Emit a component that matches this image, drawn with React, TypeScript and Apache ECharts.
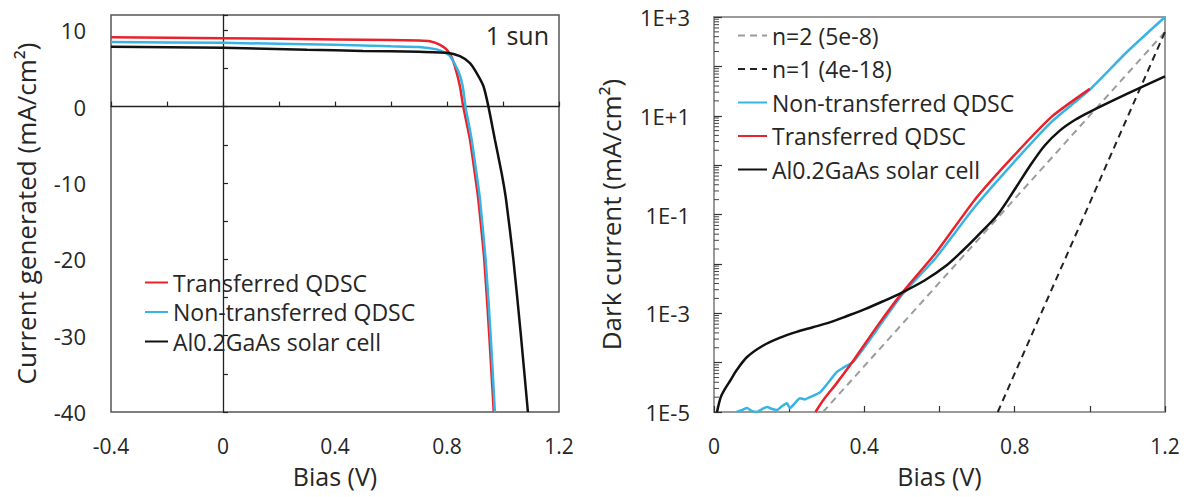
import React, { useEffect, useRef } from 'react';
import * as echarts from 'echarts';

const FONT = 'Open Sans';
const RED = '#e8232b';
const BLUE = '#38b4e4';
const BLACK = '#111111';
const DASH_GRAY = '#9c9c9c';
const TEXT = '#262626';

// ---------- Left panel: current generated under 1 sun [bias V, mA/cm²] ----------
const LIGHT_TRANSFERRED: [number, number][] = [
  [-0.4, 9.1], [0, 8.95], [0.4, 8.8], [0.6, 8.72], [0.7, 8.65], [0.739, 8.55],
  [0.775, 8.1], [0.798, 7.5], [0.815, 6.6], [0.828, 5.3], [0.846, 2.7], [0.858, 0],
  [0.882, -4.3], [0.906, -10.5], [0.912, -12.2], [0.933, -20], [0.951, -30], [0.967, -40],
];
const LIGHT_NON_TRANSFERRED: [number, number][] = [
  [-0.4, 8.45], [0, 8.35], [0.4, 8.1], [0.6, 7.9], [0.7, 7.8], [0.763, 7.5],
  [0.79, 7.1], [0.811, 6.6], [0.841, 4.6], [0.856, 2.7], [0.866, 0],
  [0.888, -4.3], [0.912, -10.5], [0.918, -12.2], [0.938, -20], [0.956, -30], [0.971, -40],
];
const LIGHT_ALGAAS: [number, number][] = [
  [-0.4, 7.85], [0, 7.72], [0.3, 7.45], [0.5, 7.3], [0.7, 7.2], [0.798, 7.05],
  [0.846, 6.6], [0.882, 5.7], [0.906, 4.4], [0.93, 2.7], [0.948, 0],
  [0.971, -4.3], [0.995, -8.7], [1.011, -12.2], [1.037, -20], [1.064, -30], [1.089, -40],
];

// ---------- Right panel: dark current [bias V, mA/cm²] ----------
const DARK_Y_MIN = 1e-5;
const DARK_Y_MAX = 1e3;
const DARK_N2: [number, number][] = [[0.29, 1e-5], [1.2, 500]];
const DARK_N1: [number, number][] = [[0.755, 1e-5], [1.2, 500]];
const DARK_NON_TRANSFERRED: [number, number][] = [
  [0.06, 1e-5], [0.075, 1.1e-5], [0.088, 1.2e-5], [0.1, 1.05e-5], [0.114, 1e-5],
  [0.128, 1.15e-5], [0.141, 1.26e-5], [0.155, 1.15e-5], [0.168, 1.1e-5], [0.18, 1.3e-5],
  [0.194, 1.5e-5], [0.202, 1.2e-5], [0.215, 1.5e-5], [0.229, 1.9e-5], [0.242, 1.8e-5],
  [0.255, 2.0e-5], [0.282, 2.5e-5], [0.309, 4.4e-5], [0.327, 6.5e-5], [0.345, 8e-5],
  [0.371, 1.05e-4], [0.433, 4.6e-4], [0.499, 2.3e-3], [0.591, 1.35e-2], [0.693, 0.14],
  [0.796, 1.1], [0.898, 7.5], [1.0, 34], [1.1, 200], [1.2, 1000],
];
const DARK_TRANSFERRED: [number, number][] = [
  [0.27, 1e-5], [0.291, 1.75e-5], [0.326, 3.8e-5], [0.371, 1.1e-4], [0.433, 5.3e-4],
  [0.499, 2.5e-3], [0.591, 1.7e-2], [0.693, 0.195], [0.796, 1.5], [0.898, 9.5], [1.0, 35],
];
const DARK_ALGAAS: [number, number][] = [
  [0.008, 1e-5], [0.018, 2.0e-5], [0.03, 3.0e-5], [0.043, 4.3e-5], [0.06, 7e-5],
  [0.088, 1.3e-4], [0.13, 2.2e-4], [0.176, 3.2e-4], [0.22, 4.2e-4], [0.263, 5.2e-4],
  [0.31, 6.6e-4], [0.354, 8.8e-4], [0.4, 1.2e-3], [0.45, 1.75e-3], [0.499, 2.6e-3],
  [0.56, 4.6e-3], [0.62, 9.5e-3], [0.66, 1.8e-2], [0.7, 3.6e-2], [0.755, 0.1],
  [0.8, 0.32], [0.84, 0.95], [0.88, 2.5], [0.92, 5.0], [0.96, 8.2], [1.0, 12],
  [1.1, 28], [1.2, 63],
];
// log-axis minor tick positions (m × 10^d)
const LOG_DECADES = [-5, -4, -3, -2, -1, 0, 1, 2];
const LOG_MULTIPLIERS = [2, 3, 4, 5, 6, 7, 8, 9];

const LEFT_LEGEND = ['Transferred QDSC', 'Non-transferred QDSC', 'Al0.2GaAs solar cell'];
const RIGHT_LEGEND = ['n=2 (5e-8)', 'n=1 (4e-18)', 'Non-transferred QDSC', 'Transferred QDSC', 'Al0.2GaAs solar cell'];

export default function App() {
  const ref = useRef<HTMLDivElement>(null);

  useEffect(() => {
    if (!ref.current) return;
    const chart = echarts.init(ref.current, undefined, { renderer: 'svg' });
    const minorTicks: [number, number][] = [];
    LOG_DECADES.forEach((d) => LOG_MULTIPLIERS.forEach((m) => minorTicks.push([0, m * Math.pow(10, d)])));

    const labelStyle = { fontFamily: FONT, fontSize: 21, color: TEXT };
    const nameStyle = { fontFamily: FONT, fontSize: 25, color: TEXT };
    const lineSeries = (name: string, data: [number, number][], color: string, xi: number, yi: number, extra: any = {}) => ({
      type: 'line', name, data, xAxisIndex: xi, yAxisIndex: yi, showSymbol: false, symbol: 'none',
      smooth: extra.smooth ?? 0.2, lineStyle: { color, width: 2.5, ...(extra.lineStyle || {}) },
      itemStyle: { color }, z: 3, clip: true,
    });
    const legendCommon = {
      orient: 'vertical', selectedMode: false, itemHeight: 14,
      textStyle: { fontFamily: FONT, fontSize: 23, color: TEXT },
      itemStyle: { opacity: 0, color: 'rgba(0,0,0,0)', borderWidth: 0 },
    };

    chart.setOption({
      animation: false,
      backgroundColor: '#ffffff',
      textStyle: { fontFamily: FONT },
      grid: [
        { left: 111, top: 15, width: 448, height: 397, show: true, borderColor: '#555', borderWidth: 1.5, backgroundColor: 'transparent' },
        { left: 714, top: 17, width: 451, height: 395, show: true, borderColor: '#9a9a9a', borderWidth: 2, backgroundColor: 'transparent' },
      ],
      xAxis: [
        {
          gridIndex: 0, type: 'value', min: -0.4, max: 1.2, interval: 0.4, position: 'bottom',
          axisLine: { show: false }, axisTick: { show: false }, splitLine: { show: false },
          axisLabel: { ...labelStyle, margin: 23 },
          name: 'Bias (V)', nameLocation: 'middle', nameGap: 51, nameTextStyle: nameStyle,
        },
        {
          gridIndex: 0, type: 'value', min: -0.4, max: 1.2, interval: 0.2, position: 'bottom',
          axisLine: { show: true, onZero: true, lineStyle: { color: '#222', width: 1.3 } },
          axisTick: { show: true, inside: true, length: 5, lineStyle: { color: '#222', width: 1.2 } },
          axisLabel: { show: false }, splitLine: { show: false },
        },
        {
          gridIndex: 1, type: 'value', min: 0, max: 1.2, interval: 0.4, position: 'bottom',
          axisLine: { show: false }, axisTick: { show: false }, splitLine: { show: false },
          axisLabel: { ...labelStyle, margin: 23 },
          name: 'Bias (V)', nameLocation: 'middle', nameGap: 51, nameTextStyle: nameStyle,
        },
        {
          gridIndex: 1, type: 'value', min: 0, max: 1.2, interval: 0.2, position: 'bottom',
          axisLine: { show: false, onZero: false },
          axisTick: { show: true, inside: true, length: 6, lineStyle: { color: '#333', width: 1.2 } },
          axisLabel: { show: false }, splitLine: { show: false },
        },
      ],
      yAxis: [
        {
          gridIndex: 0, type: 'value', min: -40, max: 12, interval: 10, position: 'left',
          axisLine: { show: false }, axisTick: { show: false }, splitLine: { show: false },
          axisLabel: { ...labelStyle, fontSize: 22, margin: 25, showMaxLabel: false },
          name: 'Current generated (mA/cm²)', nameLocation: 'middle', nameGap: 72,
          nameTextStyle: { ...nameStyle, fontSize: 26 },
        },
        {
          gridIndex: 0, type: 'value', min: -40, max: 12, interval: 5, position: 'left',
          axisLine: { show: true, onZero: true, lineStyle: { color: '#222', width: 1.3 } },
          axisTick: { show: true, inside: true, length: 5, lineStyle: { color: '#222', width: 1.2 } },
          axisLabel: { show: false }, splitLine: { show: false },
        },
        {
          gridIndex: 1, type: 'log', logBase: 10, min: DARK_Y_MIN, max: DARK_Y_MAX, splitNumber: 8, position: 'left',
          axisLine: { show: false }, splitLine: { show: false },
          axisTick: { show: true, inside: true, length: 8, lineStyle: { color: '#333', width: 1.2 } },
          axisLabel: {
            ...labelStyle, fontSize: 22, margin: 24,
            formatter: (v: number) => {
              const e = Math.round(Math.log10(v));
              if (Math.abs(e) % 2 !== 1) return '';
              return '1E' + (e >= 0 ? '+' : '-') + Math.abs(e);
            },
          },
          name: 'Dark current (mA/cm²)', nameLocation: 'middle', nameGap: 90,
          nameTextStyle: { ...nameStyle, fontSize: 26 },
        },
      ],
      legend: [
        { ...legendCommon, data: LEFT_LEGEND, left: 139, top: 266, itemWidth: 23, itemGap: 6.5 },
        { ...legendCommon, data: RIGHT_LEGEND, left: 732, top: 19, itemWidth: 29, itemGap: 10.5 },
      ],
      graphic: [
        {
          type: 'text', x: 549, y: 35,
          style: { text: '1 sun', fontFamily: FONT, fontSize: 25, fill: TEXT, align: 'right', verticalAlign: 'middle' },
        },
      ],
      series: [
        lineSeries('Transferred QDSC', LIGHT_TRANSFERRED, RED, 0, 0),
        lineSeries('Non-transferred QDSC', LIGHT_NON_TRANSFERRED, BLUE, 0, 0),
        lineSeries('Al0.2GaAs solar cell', LIGHT_ALGAAS, BLACK, 0, 0),
        lineSeries('n=2 (5e-8)', DARK_N2, DASH_GRAY, 2, 2, { smooth: false, lineStyle: { type: [7, 5], width: 2 } }),
        lineSeries('n=1 (4e-18)', DARK_N1, '#222', 2, 2, { smooth: false, lineStyle: { type: [7, 5], width: 2 } }),
        lineSeries('Non-transferred QDSC', DARK_NON_TRANSFERRED, BLUE, 2, 2),
        lineSeries('Transferred QDSC', DARK_TRANSFERRED, RED, 2, 2),
        lineSeries('Al0.2GaAs solar cell', DARK_ALGAAS, BLACK, 2, 2, { smooth: 0.3 }),
        {
          type: 'custom', xAxisIndex: 2, yAxisIndex: 2, data: minorTicks, silent: true, z: 2,
          renderItem: (_p: any, api: any) => {
            const pt = api.coord([api.value(0), api.value(1)]);
            return {
              type: 'line',
              shape: { x1: pt[0], y1: pt[1], x2: pt[0] + 5, y2: pt[1] },
              style: { stroke: '#444', lineWidth: 1 },
            };
          },
        },
      ],
    });
    return () => chart.dispose();
  }, []);

  return <div ref={ref} style={{ position: 'absolute', left: 0, top: 0, width: 1193, height: 497, background: '#fff' }} />;
}
